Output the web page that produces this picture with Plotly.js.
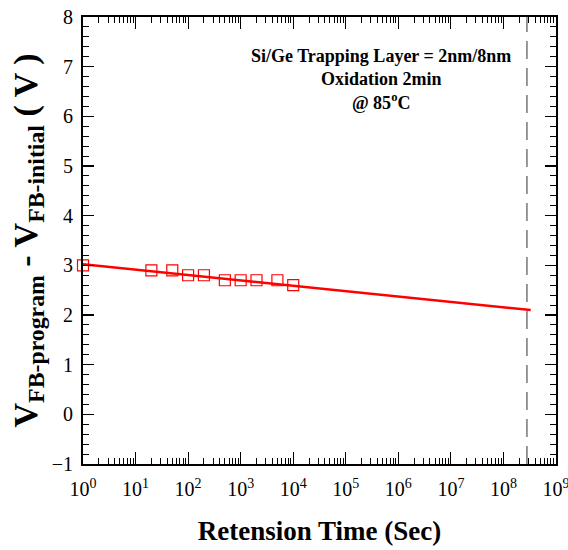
<!DOCTYPE html>
<html>
<head>
<meta charset="utf-8">
<script src="https://cdn.plot.ly/plotly-3.0.1.min.js"></script>
<style>html,body{margin:0;padding:0;background:#fff;}#chart{width:568px;height:550px;}</style>
</head>
<body>
<div id="chart"></div>
<script>
// Measured data (retention time in seconds, flat-band shift in volts)
const timeSec = [1, 20, 50, 100, 200, 500, 1000, 2000, 5000, 10000];
const deltaVfb = [3.0, 2.9, 2.9, 2.8, 2.8, 2.7, 2.7, 2.7, 2.7, 2.6];
// Fitted extrapolation line endpoints
const fitX = [1, 3.3e8];
const fitY = [3.02, 2.1];
// Ten-year marker (dashed vertical line)
const tenYearX = [2.8e8, 2.8e8];
const tenYearY = [-1, 8];
// Tick labels
const xTickVals = [1, 1e1, 1e2, 1e3, 1e4, 1e5, 1e6, 1e7, 1e8, 1e9];
const xTickText = ['10<sup>0</sup>','10<sup>1</sup>','10<sup>2</sup>','10<sup>3</sup>','10<sup>4</sup>','10<sup>5</sup>','10<sup>6</sup>','10<sup>7</sup>','10<sup>8</sup>','10<sup>9</sup>'];
const yTickVals = [-1, 0, 1, 2, 3, 4, 5, 6, 7, 8];

const serif = '"Times New Roman", "Liberation Serif", "DejaVu Serif", Times, serif';

const traces = [
  {
    x: tenYearX, y: tenYearY, mode: 'lines', type: 'scatter',
    line: {color: '#555555', width: 1.2, dash: '18px,9px'},
    hoverinfo: 'skip', showlegend: false
  },
  {
    x: fitX, y: fitY, mode: 'lines', type: 'scatter',
    line: {color: '#ff0000', width: 2.5},
    showlegend: false
  },
  {
    x: timeSec, y: deltaVfb, mode: 'markers', type: 'scatter', cliponaxis: false,
    marker: {symbol: 'square-open', size: 11, color: '#ff0000', line: {width: 1.2, color: '#ff0000'}},
    showlegend: false
  }
];

const layout = {
  width: 568, height: 550,
  margin: {l: 83, r: 12, t: 17, b: 86},
  paper_bgcolor: '#ffffff', plot_bgcolor: '#ffffff',
  font: {family: serif, color: '#000000', size: 18},
  showlegend: false,
  xaxis: {
    type: 'log', range: [0, 9],
    tickmode: 'array', tickvals: xTickVals, ticktext: xTickText,
    ticks: 'inside', ticklen: 12, tickwidth: 1.2, tickcolor: '#000',
    minor: {ticks: 'inside', ticklen: 6, tickwidth: 1, tickcolor: '#000', dtick: 'D1', showgrid: false},
    showline: true, linewidth: 2, linecolor: '#000', mirror: 'ticks',
    showgrid: false, zeroline: false, ticklabeloverflow: 'allow', ticklabelstandoff: 6,
    tickfont: {family: serif, size: 20, color: '#000'},
    title: {text: '<b>Retension Time (Sec)</b>', font: {family: serif, size: 27, color: '#000'}, standoff: 22}
  },
  yaxis: {
    range: [-1, 8],
    tickmode: 'array', tickvals: yTickVals,
    ticks: 'inside', ticklen: 11, tickwidth: 1.2, tickcolor: '#000',
    minor: {ticks: 'inside', ticklen: 6, tickwidth: 1, tickcolor: '#000', dtick: 0.2, showgrid: false},
    showline: true, linewidth: 2, linecolor: '#000', mirror: 'ticks',
    showgrid: false, zeroline: false, ticklabelstandoff: 4,
    tickfont: {family: serif, size: 20, color: '#000'},
    title: {text: '<b>V<sub>FB-program</sub> - V<sub>FB-initial</sub> ( V )</b>', font: {family: serif, size: 34, color: '#000'}, standoff: 4}
  },
  annotations: [
    {
      xref: 'paper', yref: 'paper', x: 0.63, y: 0.94, xanchor: 'center', yanchor: 'top',
      showarrow: false, align: 'center',
      text: '<b>Si/Ge Trapping Layer = 2nm/8nm<br>Oxidation 2min<br>@ 85<sup>o</sup>C</b>',
      font: {family: serif, size: 18, color: '#000'}
    }
  ]
};

Plotly.newPlot('chart', traces, layout, {displayModeBar: false, staticPlot: true});
</script>
</body>
</html>
